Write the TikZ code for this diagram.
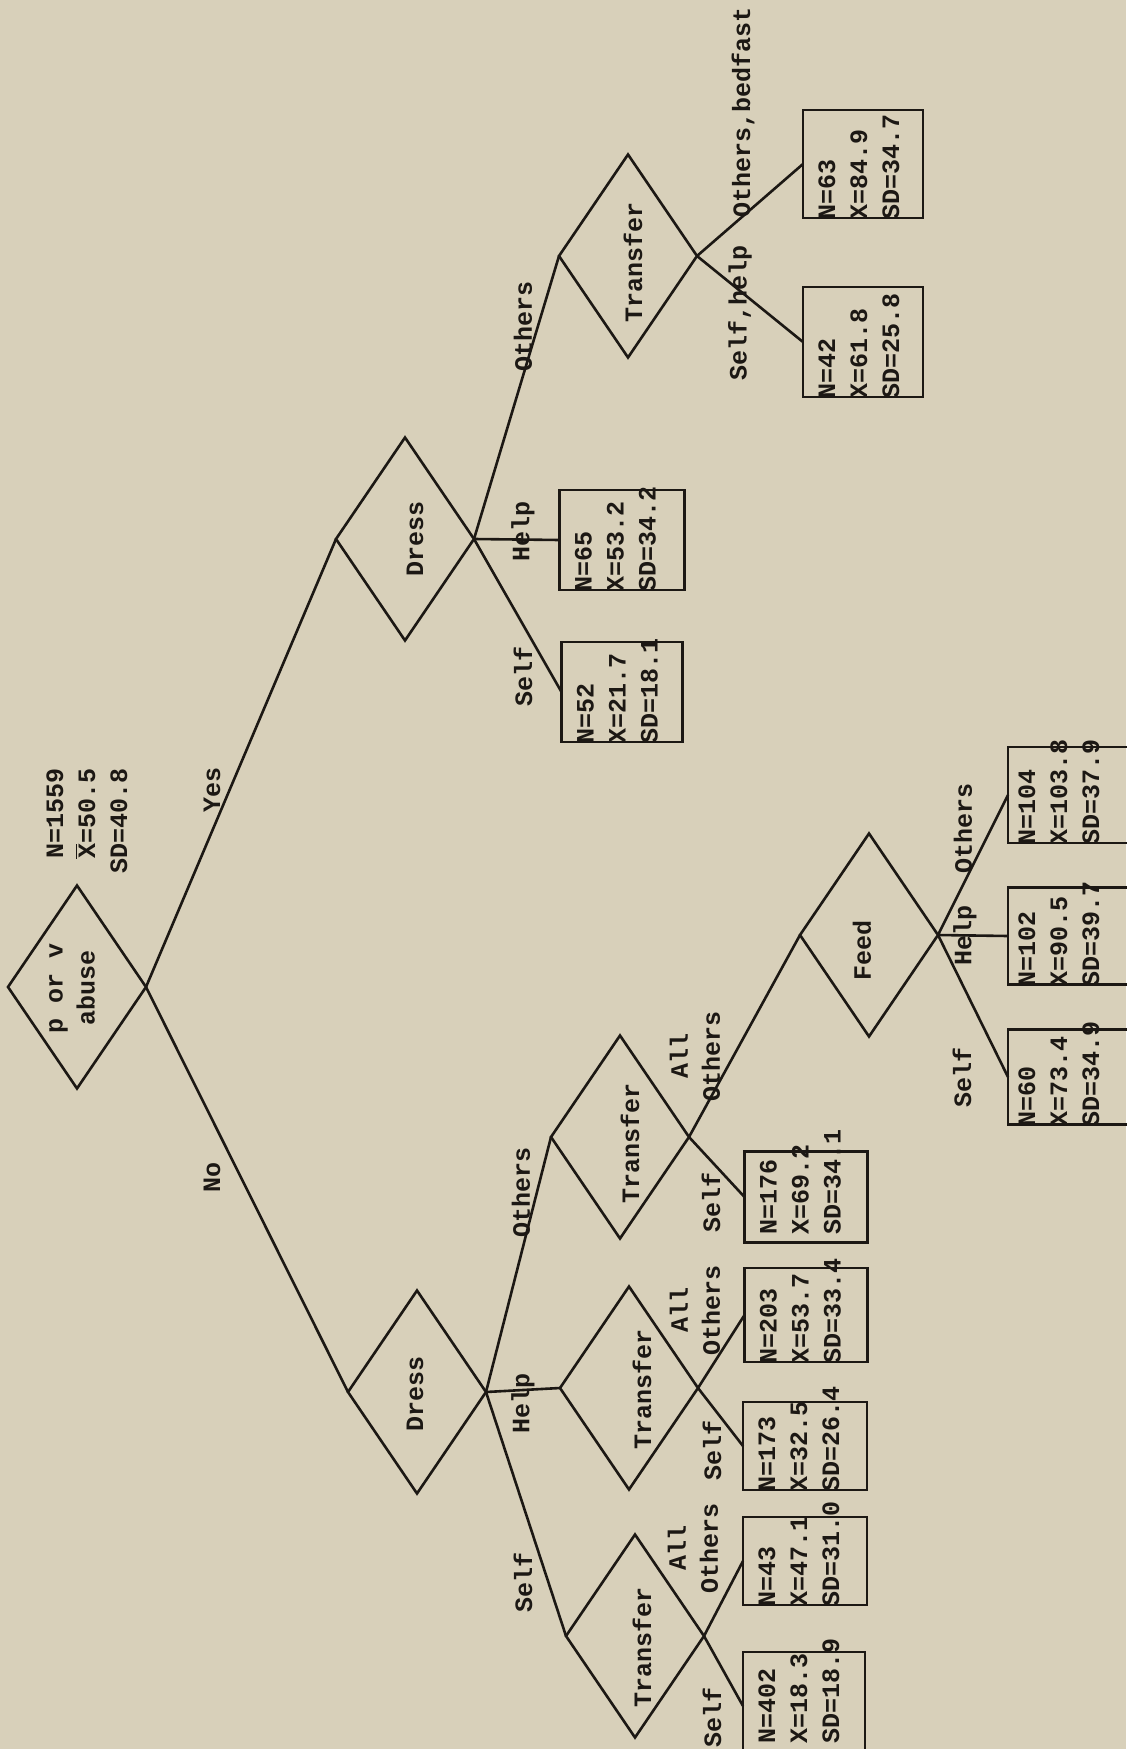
\documentclass[tikz,border=0pt]{standalone}
\usepackage{fontspec}
\setmonofont{Liberation Mono}
\usetikzlibrary{shapes.geometric,calc}
\definecolor{paper}{RGB}{216,208,186}
\definecolor{ink}{RGB}{28,24,20}
\tikzset{
  decision/.style={diamond, draw=ink, line width=1.3pt, minimum width=69pt, minimum height=101.5pt, inner sep=0pt, outer sep=0pt},
  leaf/.style={rectangle, draw=ink, line width=1.3pt, minimum width=61.5pt, minimum height=47.5pt, inner sep=0pt, outer sep=0pt},
  txt/.style={text=ink, rotate=90, inner sep=0pt, font=\ttfamily\bfseries\fontsize{12.5}{16}\selectfont},
  stats/.style={txt, align=left, anchor=north west},
  branch/.style={draw=ink, line width=1.3pt},
}

\begin{document}
\begin{tikzpicture}[x=0.5pt,y=-0.5pt]
	\fill[paper] (0,0) rectangle (1126,1749);
	\useasboundingbox (0,0) rectangle (1126,1749);

	\node[decision] (root) at (77,987) {};
	\node[decision] (dressY) at (405,539) {};
	\node[decision] (dressN) at (417,1392) {};
	\node[decision] (transY) at (628,256) {};
	\node[decision] (transO) at (620,1137) {};
	\node[decision] (transH) at (629,1388) {};
	\node[decision] (transS) at (635,1636) {};
	\node[decision] (feed) at (869,935) {};

	\node[txt, align=center] (rootT) at (72,988) {p or v\\abuse};
	\node[txt] (dressYT) at (415,539) {Dress};
	\node[txt] (dressNT) at (415,1394) {Dress};
	\node[txt] (transYT) at (633,262) {Transfer};
	\node[txt] (transOT) at (630,1143) {Transfer};
	\node[txt] (transHT) at (642,1389) {Transfer};
	\node[txt] (transST) at (642,1647) {Transfer};
	\node[txt] (feedT) at (862,950) {Feed};

	\node[txt, align=right] (rootS) at (87,821) {N=1559\\$\overline{\mbox{X}}$=50.5\\SD=40.8};

	\node[leaf, minimum width=60.5pt, minimum height=50pt] (b52) at (622,692) {};
	\node[leaf, minimum width=62.5pt, minimum height=50pt] (b65) at (622,540) {};
	\node[leaf, minimum width=60pt, minimum height=55pt] (b42) at (863,342) {};
	\node[leaf, minimum width=60pt, minimum height=54pt] (b63) at (863,164) {};
	\node[leaf, minimum height=45.5pt] (b176) at (806,1197) {};
	\node[leaf, minimum height=47pt] (b203) at (806,1315) {};
	\node[leaf, minimum width=62pt, minimum height=44pt] (b173) at (805,1446) {};
	\node[leaf, minimum width=62pt, minimum height=44pt] (b43) at (805,1561) {};
	\node[leaf, minimum width=61pt, minimum height=54pt] (b402) at (804,1706) {};
	\node[leaf, minimum width=66pt, minimum height=48pt] (b104) at (1074,795) {};
	\node[leaf, minimum width=66pt, minimum height=48.5pt] (b102) at (1074,936) {};
	\node[leaf, minimum width=66pt, minimum height=47.5pt] (b60) at (1074,1077) {};

	\node[stats] (s52) at ($(b52.south west)+(15,2)$) {N=52\\X=21.7\\SD=18.1};
	\node[stats] (s65) at ($(b65.south west)+(15,2)$) {N=65\\X=53.2\\SD=34.2};
	\node[stats] (s42) at ($(b42.south west)+(15,2)$) {N=42\\X=61.8\\SD=25.8};
	\node[stats] (s63) at ($(b63.south west)+(15,2)$) {N=63\\X=84.9\\SD=34.7};
	\node[stats] (s176) at ($(b176.south west)+(15,-8)$) {N=176\\X=69.2\\SD=34.1};
	\node[stats] (s203) at ($(b203.south west)+(15,2)$) {N=203\\X=53.7\\SD=33.4};
	\node[stats] (s173) at ($(b173.south west)+(15,2)$) {N=173\\X=32.5\\SD=26.4};
	\node[stats] (s43) at ($(b43.south west)+(15,2)$) {N=43\\X=47.1\\SD=31.0};
	\node[stats] (s402) at ($(b402.south west)+(15,-16)$) {N=402\\X=18.3\\SD=18.9};
	\node[stats] (s104) at ($(b104.south west)+(10,2)$) {N=104\\X=103.8\\SD=37.9};
	\node[stats] (s102) at ($(b102.south west)+(10,2)$) {N=102\\X=90.5\\SD=39.7};
	\node[stats] (s60) at ($(b60.south west)+(10,2)$) {N=60\\X=73.4\\SD=34.9};

	\foreach \from/\to in {root/dressY, root/dressN, dressY/b52, dressY/b65, dressY/transY,
		transY/b42, transY/b63, dressN/transS, dressN/transH, dressN/transO,
		transS/b402, transS/b43, transH/b173, transH/b203, transO/b176, transO/feed,
		feed/b60, feed/b102, feed/b104}
		\draw[branch] (\from.east) -- (\to.west);

	\node[txt] (lYes) at (212,790) {Yes};
	\node[txt] (lNo) at (212,1177) {No};
	\node[txt] (lYS) at (523,676) {Self};
	\node[txt] (lYH) at (523,531) {Help};
	\node[txt] (lYO) at (523,326) {Others};
	\node[txt] (lSH) at (740,313) {Self,help};
	\node[txt] (lOB) at (743,112) {Others,bedfast};
	\node[txt] (lNO) at (521,1192) {Others};
	\node[txt] (lNH) at (523,1403) {Help};
	\node[txt] (lNS) at (523,1582) {Self};
	\node[txt] (lSS) at (712,1717) {Self};
	\node[txt, align=center] (lSA) at (693,1548) {All\\Others};
	\node[txt] (lHS) at (712,1450) {Self};
	\node[txt, align=center] (lHA) at (695,1310) {All\\Others};
	\node[txt] (lOS) at (711,1202) {Self};
	\node[txt, align=center] (lOA) at (695,1056) {All\\Others};
	\node[txt] (lFS) at (962,1077) {Self};
	\node[txt] (lFH) at (965,935) {Help};
	\node[txt] (lFO) at (963,828) {Others};
\end{tikzpicture}
\end{document}
